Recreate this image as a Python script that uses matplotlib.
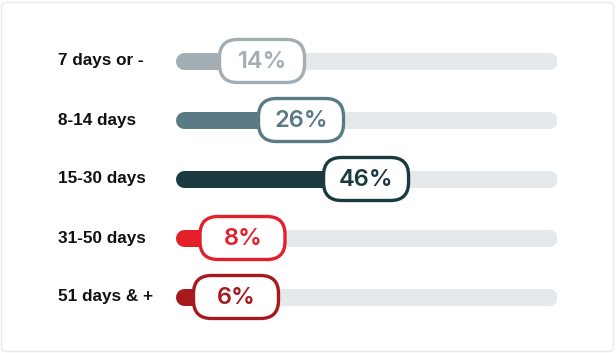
import matplotlib
matplotlib.use('Agg')
import matplotlib.pyplot as plt
import matplotlib.transforms as mtransforms
from matplotlib.patches import FancyBboxPatch

categories = ['7 days or -', '8-14 days', '15-30 days', '31-50 days', '51 days & +']
values = [14, 26, 46, 8, 6]
colors = ['#a2adb4', '#5a7a85', '#1b3a40', '#e41f2a', '#a5191f']
track_max = 117.5

W, H = 616, 353
fig = plt.figure(figsize=(W / 100, H / 100), dpi=100)
fig.patch.set_facecolor('white')

# card outline, kept behind the axes
card = FancyBboxPatch((1.5 / W, 1.5 / H), (W - 4) / W, (H - 4) / H,
                      boxstyle='round,pad=0,rounding_size=0.01',
                      transform=fig.transFigure, fc='white', ec='#e9e9e9', lw=1,
                      zorder=-10)
fig.patches.append(card)

ax = fig.add_axes([175 / W, (H - 326.5) / H, 382 / W, 295 / H])
ax.set_xlim(0, track_max)
ax.set_ylim(len(categories) - 0.5, -0.5)
ax.set_axis_off()

px = 382 / track_max          # pixels per unit
bar_px = 17                   # bar thickness in pixels
r = bar_px / 2 / px           # cap radius in data units
lw = bar_px * 72 / 100

for i, (v, c) in enumerate(zip(values, colors)):
    ax.plot([r, track_max - r], [i, i], color='#e6e9eb', lw=lw,
            solid_capstyle='round', zorder=1)
    ax.plot([r, v + 2], [i, i], color=c, lw=lw, solid_capstyle='round', zorder=2)

    # value box, fixed size in inches, anchored at the bar end
    tr = fig.dpi_scale_trans + mtransforms.ScaledTranslation(v, i, ax.transData)
    box = FancyBboxPatch((-0.01, -0.215), 0.85, 0.43,
                         boxstyle='round,pad=0,rounding_size=0.18',
                         fc='white', ec=c, lw=2.4, transform=tr, zorder=3)
    ax.add_patch(box)
    ax.text(0.42, -0.01, f'{v}%', transform=tr, ha='center', va='center',
            fontsize=17, fontweight='semibold', family='Inter', color=c, zorder=4)

    ax.text(58, i, categories[i], ha='left', va='center', fontsize=12.3,
            fontweight='bold', family='Liberation Sans', color='#111111',
            transform=mtransforms.blended_transform_factory(
                mtransforms.IdentityTransform(), ax.transData))

fig.savefig('out.png', dpi=100)
